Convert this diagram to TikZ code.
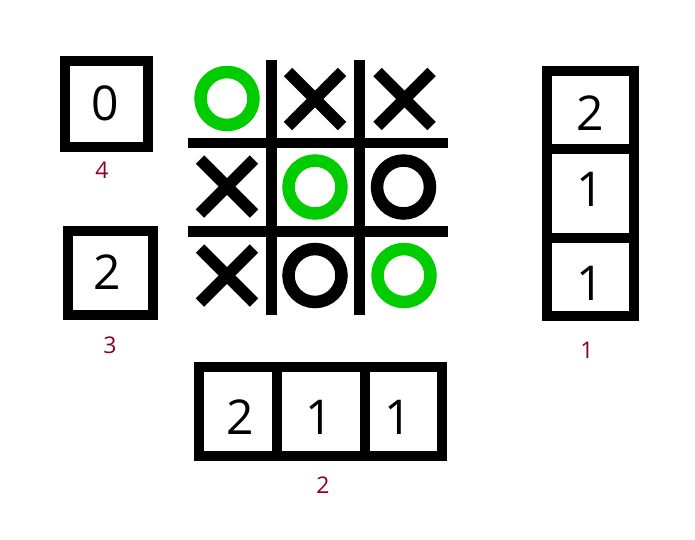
\documentclass[tikz,border=0pt]{standalone}
\usepackage{fontspec}
\setmainfont{Open Sans}
\definecolor{ogreen}{RGB}{0,204,0}
\definecolor{lblred}{RGB}{139,0,38}
\begin{document}
\begin{tikzpicture}[x=1pt,y=-1pt,
  cell/.style={draw=black, line width=10pt, fill=white, inner sep=0pt},
  digit/.style={inner sep=0pt, font=\fontsize{48}{48}\selectfont},
  lbl/.style={text=lblred, font=\fontsize{23}{23}\selectfont, inner sep=0pt},
  gridline/.style={line width=10.5pt, line cap=butt},
  xmark/.style={line width=12pt, line cap=butt},
  omark/.style={line width=12.5pt}]
\useasboundingbox (0,0) rectangle (695,539);
% left boxes
\node[cell, minimum width=83pt, minimum height=86pt] (b4) at (106,104) {};
\node[digit] (d4) at (105,103) {0};
\node[lbl] (l4) at (102,170) {4};
\node[cell, minimum width=85pt, minimum height=84pt] (b3) at (110.5,272.5) {};
\node[digit] (d3) at (107.5,272.5) {2};
\node[lbl] (l3) at (110,345) {3};
% right column
\node[cell, minimum width=87pt, minimum height=77.5pt] (r1) at (590.5,109.75) {};
\node[cell, minimum width=87pt, minimum height=89pt] (r2) at (590.5,193) {};
\node[cell, minimum width=87pt, minimum height=78.5pt] (r3) at (590.5,276.75) {};
\node[digit] (dr1) at (590,113) {2};
\node[digit] (dr2) at (590,189.5) {1};
\node[digit] (dr3) at (590,283.5) {1};
\node[lbl] (l1) at (587,350) {1};
% bottom row
\node[cell, minimum width=78pt, minimum height=88.5pt] (c1) at (237.5,411.25) {};
\node[cell, minimum width=88pt, minimum height=88.5pt] (c2) at (320.5,411.25) {};
\node[cell, minimum width=77.5pt, minimum height=88.5pt] (c3) at (403.25,411.25) {};
\node[digit] (dc1) at (240.5,417.5) {2};
\node[digit] (dc2) at (319,417.5) {1};
\node[digit] (dc3) at (398,417.5) {1};
\node[lbl] (l2) at (323,485) {2};
% grid
\draw[gridline] (271.5,60) -- (271.5,315);
\draw[gridline] (359.5,60) -- (359.5,315);
\draw[gridline] (188,143) -- (448,143);
\draw[gridline] (188,231.5) -- (448,231.5);
% marks
\draw[omark, ogreen] (227,98.5) circle (26.5);
\draw[xmark] (315,99) ++(-27,-27) -- ++(54,54);
\draw[xmark] (315,99) ++(27,-27) -- ++(-54,54);
\draw[xmark] (404.5,99) ++(-27,-27) -- ++(54,54);
\draw[xmark] (404.5,99) ++(27,-27) -- ++(-54,54);
\draw[xmark] (227,186.5) ++(-27,-27) -- ++(54,54);
\draw[xmark] (227,186.5) ++(27,-27) -- ++(-54,54);
\draw[omark, ogreen] (315,187) circle (26.5);
\draw[omark] (403.5,187) circle (26.5);
\draw[xmark] (227,275.5) ++(-27,-27) -- ++(54,54);
\draw[xmark] (227,275.5) ++(27,-27) -- ++(-54,54);
\draw[omark] (315,275.5) circle (26.5);
\draw[omark, ogreen] (404,275.5) circle (26.5);
\end{tikzpicture}
\end{document}
